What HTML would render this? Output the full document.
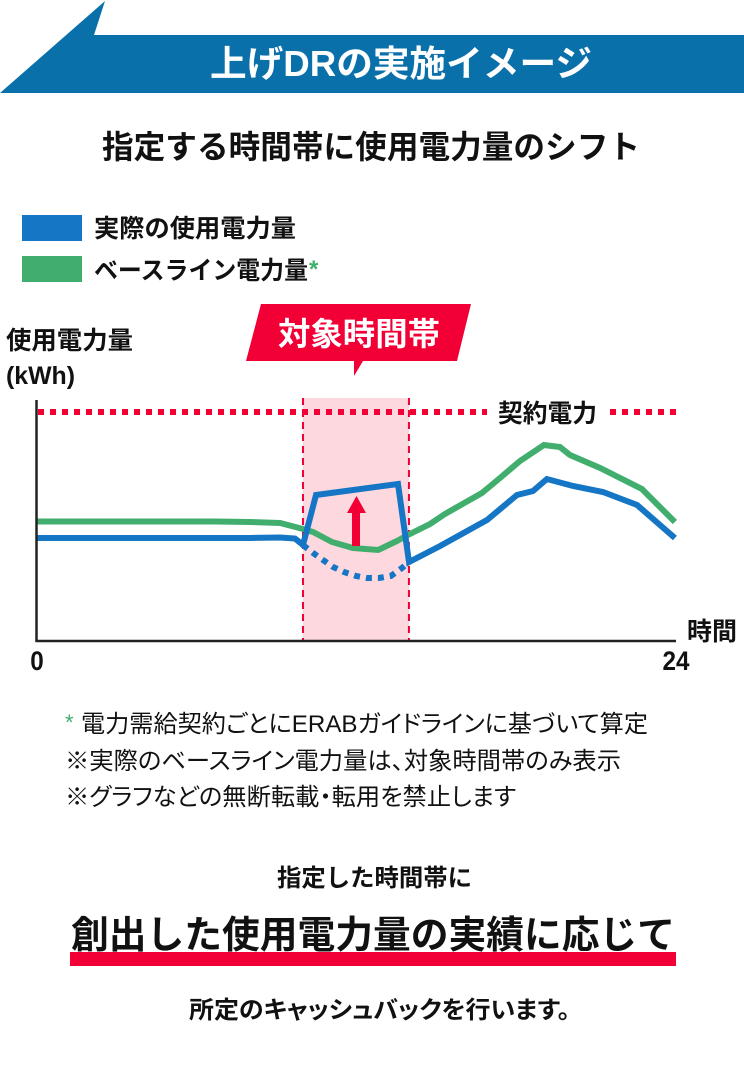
<!DOCTYPE html>
<html lang="ja">
<head>
<meta charset="utf-8">
<title>上げDRの実施イメージ</title>
<style>
html,body{margin:0;padding:0;background:#fff;}
svg{display:block;}
text{font-family:"Liberation Sans","Noto Sans CJK JP",sans-serif;fill:#111;}
.b{font-weight:700;}
.p{font-feature-settings:"palt";}
</style>
</head>
<body>
<svg id="page" width="744" height="1067" viewBox="0 0 744 1067" xmlns="http://www.w3.org/2000/svg">
  <polygon points="0,93 105,1 94,35 744,35 744,93" fill="#0a70aa"/>
  <text class="b" x="210" y="76" font-size="36" textLength="382" lengthAdjust="spacingAndGlyphs" style="fill:#fff">上げDRの実施イメージ</text>
  <text class="b" x="102" y="158" font-size="32" textLength="538" lengthAdjust="spacingAndGlyphs">指定する時間帯に使用電力量のシフト</text>

  <rect x="22" y="215" width="60" height="26" fill="#1476c4"/>
  <text class="b" x="94" y="237" font-size="25" textLength="202" lengthAdjust="spacingAndGlyphs">実際の使用電力量</text>
  <rect x="22" y="256" width="60" height="26" fill="#41ae6e"/>
  <text class="b" x="94" y="279" font-size="25" textLength="214" lengthAdjust="spacingAndGlyphs">ベースライン電力量</text>
  <text class="b" x="309" y="277" font-size="24" style="fill:#41ae6e">*</text>

  <text class="b" x="6" y="349" font-size="25" textLength="127" lengthAdjust="spacingAndGlyphs">使用電力量</text>
  <text class="b" x="6" y="384" font-size="25" textLength="69" lengthAdjust="spacingAndGlyphs">(kWh)</text>

  <g id="chart"></g>

  <polygon points="261,304 471,304 457,361 363,361 354,376 354,361 246,361" fill="#f20035"/>
  <text class="b" x="278" y="345" font-size="32" textLength="162" lengthAdjust="spacingAndGlyphs" style="fill:#fff">対象時間帯</text>

  <text class="b" x="498" y="422" font-size="25" textLength="99" lengthAdjust="spacingAndGlyphs">契約電力</text>
  <text class="b" x="687" y="640" font-size="25" textLength="50" lengthAdjust="spacingAndGlyphs">時間</text>

  <text x="65" y="730" font-size="22" style="fill:#41ae6e">*</text>
  <text class="p" x="81" y="732" font-size="24" textLength="567" lengthAdjust="spacingAndGlyphs">電力需給契約ごとにERABガイドラインに基づいて算定</text>
  <text class="p" x="65" y="769" font-size="24" textLength="556" lengthAdjust="spacingAndGlyphs">※実際のベースライン電力量は、対象時間帯のみ表示</text>
  <text class="p" x="65" y="805" font-size="24" textLength="451" lengthAdjust="spacingAndGlyphs">※グラフなどの無断転載・転用を禁止します</text>

  <text class="b" x="277" y="886" font-size="24" textLength="195" lengthAdjust="spacingAndGlyphs">指定した時間帯に</text>
  <rect x="70" y="952" width="606" height="14" fill="#f20035"/>
  <text class="b" x="71" y="948" font-size="38" textLength="604" lengthAdjust="spacingAndGlyphs">創出した使用電力量の実績に応じて</text>
  <text class="b p" x="189" y="1018" font-size="24" textLength="381" lengthAdjust="spacingAndGlyphs">所定のキャッシュバックを行います。</text>
</svg>
<script>
var xTickLabels = ["0", "24"];
var xTickHours = [0, 24];
var targetWindow = [9.99, 13.97];
var contractKwh = 229;
var baselineHours = [0, 6.69, 8, 9.13, 9.99, 10.37, 11.08, 11.87, 12.81, 13.52, 13.93, 14.76, 15.32, 16.71, 17.39, 18.14, 19.04, 19.64, 20.02, 21.15, 22.72, 23.96];
var baselineKwh = [119.5, 119.5, 119, 118, 112, 109, 99, 93, 91, 100, 106, 117, 127, 148, 163, 180, 196, 194, 186, 173, 152, 119];
var actualHours = [0, 8, 9.13, 9.69, 9.99, 10.48, 13.56, 13.97, 15.14, 16.9, 18.03, 18.63, 19.15, 20.13, 21.26, 22.54, 23.14, 23.96];
var actualKwh = [103, 103, 103.5, 102.5, 96, 146, 157, 79, 95, 121, 146, 150, 162, 155, 149, 136, 122, 103];
var noShiftHours = [9.99, 10.37, 10.74, 11.12, 11.53, 11.98, 12.39, 12.84, 13.29, 13.71, 13.97];
var noShiftKwh = [96, 88, 81, 74, 69, 65, 63, 63, 65, 73, 79];

var NS = "http://www.w3.org/2000/svg";
var chart = document.getElementById("chart");
function xScale(h) { return 37 + h * (676 - 37) / 24; }
function yScale(v) { return 641 - v; }
function make(tag, attrs) {
  var el = document.createElementNS(NS, tag);
  for (var k in attrs) el.setAttribute(k, attrs[k]);
  chart.appendChild(el);
  return el;
}
function pointsOf(hours, vals) {
  return hours.map(function (h, i) { return xScale(h).toFixed(1) + "," + yScale(vals[i]).toFixed(1); }).join(" ");
}

var band = make("rect", { x: xScale(targetWindow[0]), y: 398, width: xScale(targetWindow[1]) - xScale(targetWindow[0]), height: 243, fill: "#fdd8df" });



var bandLeft = make("line", { x1: xScale(targetWindow[0]), x2: xScale(targetWindow[0]), y1: 398, y2: 641, stroke: "#f20035", "stroke-width": 2, "stroke-dasharray": "7 5" });



var bandRight = make("line", { x1: xScale(targetWindow[1]), x2: xScale(targetWindow[1]), y1: 398, y2: 641, stroke: "#f20035", "stroke-width": 2, "stroke-dasharray": "7 5" });



var contractA = make("line", { x1: 38, x2: 487, y1: yScale(contractKwh), y2: yScale(contractKwh), stroke: "#f20035", "stroke-width": 6, "stroke-dasharray": "6 6" });



var contractB = make("line", { x1: 610, x2: 677, y1: yScale(contractKwh), y2: yScale(contractKwh), stroke: "#f20035", "stroke-width": 6, "stroke-dasharray": "6 6" });



var baseline = make("polyline", { points: pointsOf(baselineHours, baselineKwh), fill: "none", stroke: "#41ae6e", "stroke-width": 6, "stroke-linejoin": "miter" });



var noShift = make("polyline", { points: pointsOf(noShiftHours, noShiftKwh), fill: "none", stroke: "#1476c4", "stroke-width": 6, "stroke-dasharray": "6 6" });



var actual = make("polyline", { points: pointsOf(actualHours, actualKwh), fill: "none", stroke: "#1476c4", "stroke-width": 6, "stroke-linejoin": "miter" });



var arrow = make("polygon", { points: "356.5,496 366,513 360,513 360,546 352,546 352,513 347,513", fill: "#f20035" });



var yAxis = make("line", { x1: 36.5, x2: 36.5, y1: 400, y2: 642, stroke: "#222", "stroke-width": 2.5 });



var xAxis = make("line", { x1: 35.5, x2: 676, y1: 641, y2: 641, stroke: "#222", "stroke-width": 2.5 });



xTickLabels.forEach(function (label, i) {
  var t = make("text", { x: xScale(xTickHours[i]), y: 670, "font-size": 27, "text-anchor": "middle", "class": "b", textLength: 13.5 * label.length, lengthAdjust: "spacingAndGlyphs" });
  t.textContent = label;
  
  
});
</script>
</body>
</html>
